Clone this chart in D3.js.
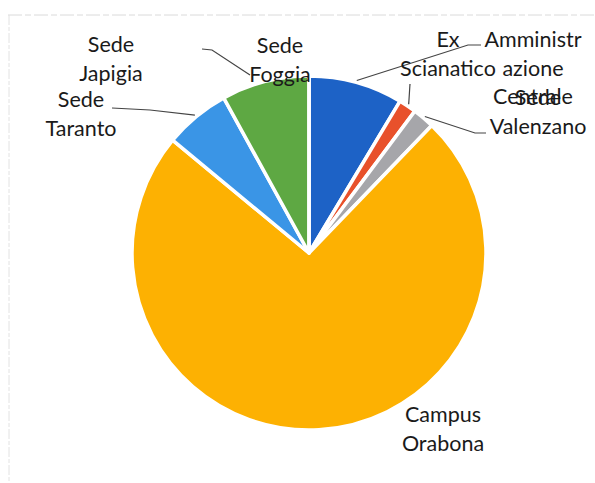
<!DOCTYPE html>
<html>
<head>
<meta charset="utf-8">
<script src="https://cdn.jsdelivr.net/npm/d3@7"></script>
<style>
  html, body { margin: 0; padding: 0; background: #fff; }
  svg { display: block; }
</style>
</head>
<body>
<svg id="chart" width="595" height="483"></svg>
<script>
// ---- data ----
const categories = ["Ex Scianatico", "Amministrazione Centrale", "Sede Valenzano", "Campus Orabona", "Sede Taranto", "Sede Foggia", "Sede Japigia"];
const values = [8.6, 1.6, 2.0, 73.8, 6.0, 8.0, 0];
const labelLines = [
  ["Ex", "Scianatico"],
  ["Amministr", "azione", "Centrale"],
  ["Sede", "Valenzano"],
  ["Campus", "Orabona"],
  ["Sede", "Taranto"],
  ["Sede", "Foggia"],
  ["Sede", "Japigia"]
];

// ---- layout / style ----
const colors = ["#1d62c6", "#e8512b", "#a6a6aa", "#fdb102", "#3a95e6", "#5ea843", "#264478"];
const cx = 309, cy = 253, R = 177;
const lineH = 28.5;
// label anchor: center x, first baseline y
const labelPos = {
  "Ex Scianatico": [448, 47],
  "Amministrazione Centrale": [533, 47],
  "Sede Valenzano": [538, 105],
  "Campus Orabona": [443, 422],
  "Sede Taranto": [81, 107],
  "Sede Foggia": [280, 53],
  "Sede Japigia": [111, 52]
};
// leader line: whether it starts on the slice, plus the outer points
const leader = {
  "Ex Scianatico": {fromSlice: true, pts: [[468, 45], [481, 45]]},
  "Amministrazione Centrale": {fromSlice: true, pts: [[410, 84]]},
  "Sede Valenzano": {fromSlice: true, pts: [[475, 133], [486, 133]]},
  "Sede Taranto": {fromSlice: true, pts: [[150, 110], [112, 108]]},
  "Sede Japigia": {fromSlice: false, pts: [[202, 49], [212, 50], [250, 75]]}
};

const svg = d3.select("#chart");

// faint scanned border
svg.append("line").attr("x1", 8).attr("y1", 15).attr("x2", 595).attr("y2", 15)
  .attr("stroke", "#dadada").attr("stroke-width", 1).attr("stroke-dasharray", "14,3,6,3");
svg.append("line").attr("x1", 9).attr("y1", 15).attr("x2", 9).attr("y2", 483)
  .attr("stroke", "#e2e2e2").attr("stroke-width", 1).attr("stroke-dasharray", "10,2,4,2");

const data = categories.map((c, i) => ({cat: c, value: values[i], color: colors[i], lines: labelLines[i]}));

const pie = d3.pie().value(d => d.value).sort(null).startAngle(0).endAngle(2 * Math.PI);
const arcs = pie(data);
const arc = d3.arc().innerRadius(0).outerRadius(R);

const g = svg.append("g").attr("transform", `translate(${cx},${cy})`);
g.selectAll("path.slice").data(arcs).enter().append("path")
  .attr("class", "slice")
  .attr("d", arc)
  .attr("fill", d => d.data.color)
  .attr("stroke", "#fff")
  .attr("stroke-width", 3.5)
  .attr("stroke-linejoin", "round");

// leader lines
const lineGen = d3.line();
arcs.forEach(a => {
  const L = leader[a.data.cat];
  if (!L) return;
  let pts = L.pts.slice();
  if (L.fromSlice) {
    const mid = (a.startAngle + a.endAngle) / 2;
    const p = [cx + (R + 2) * Math.sin(mid), cy - (R + 2) * Math.cos(mid)];
    pts = [p].concat(pts);
  }
  svg.append("path").attr("d", lineGen(pts))
    .attr("fill", "none").attr("stroke", "#444").attr("stroke-width", 1.2);
});

// labels
arcs.forEach(a => {
  const pos = labelPos[a.data.cat];
  const t = svg.append("text")
    .attr("text-anchor", "middle")
    .attr("font-family", "Lato, 'Open Sans', sans-serif")
    .attr("font-size", 21.5)
    .attr("fill", "#1a1a1a");
  a.data.lines.forEach((ln, i) => {
    t.append("tspan").attr("x", pos[0]).attr("y", pos[1] + i * lineH).text(ln);
  });
});
</script>
</body>
</html>
